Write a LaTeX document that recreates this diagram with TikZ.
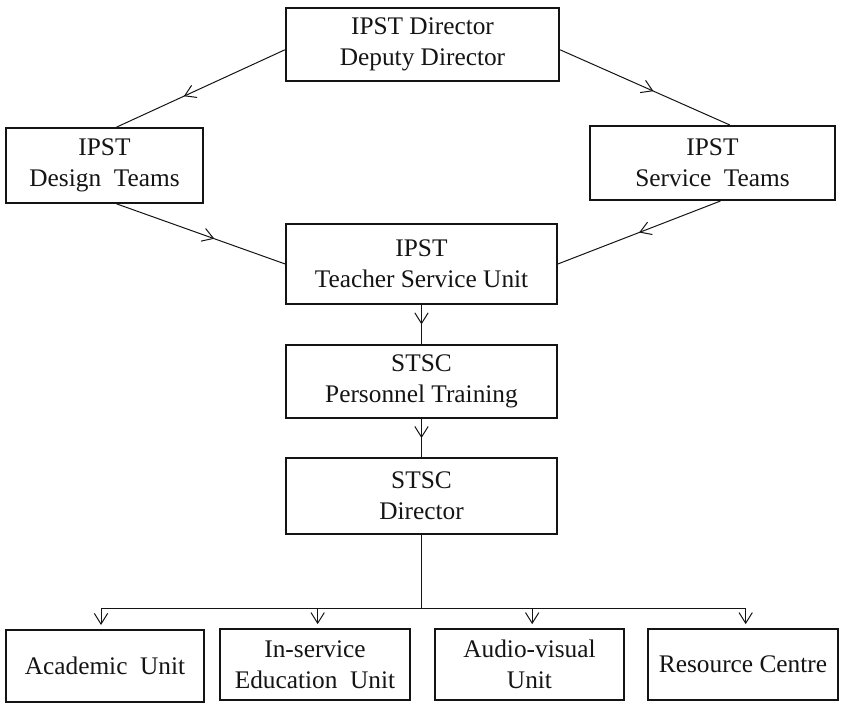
\documentclass[tikz,border=0pt]{standalone}
\usepackage{fontspec}
\setmainfont{Liberation Serif}
\usepackage{xcolor}
\definecolor{chart-ink}{HTML}{141414}
\usetikzlibrary{arrows.meta,decorations.markings}

\tikzset{
    unitbox/.style={draw=chart-ink, line width=1.5pt, inner sep=0pt, align=center,
        text=chart-ink, font=\fontsize{19}{23}\selectfont},
    link/.style={draw=chart-ink, line width=0.75pt},
    midarrow/.style={link, postaction={decorate}, decoration={markings,
        mark=at position #1 with {\arrow{Straight Barb[length=8pt,width=10pt]}}}},
    droparrow/.style={link, -{Straight Barb[length=8pt,width=10pt]}, shorten >=3pt}
}

\begin{document}
\begin{tikzpicture}[x=0.75pt, y=-0.75pt]

    % Frame
    \useasboundingbox (0, 0) rectangle (845, 705);

    % Top level
    \node[unitbox, minimum width=205pt, minimum height=55pt] (director) at (422.5, 44.5) {IPST Director\\Deputy Director};

    % Teams
    \node[unitbox, minimum width=148pt, minimum height=56pt] (design) at (104.5, 165.5) {IPST\\Design\ \ Teams};
    \node[unitbox, minimum width=184pt, minimum height=55.5pt] (service) at (712.5, 163) {IPST\\Service\ \ Teams};

    % Centre column
    \node[unitbox, minimum width=203pt, minimum height=60pt] (teacher) at (421.5, 264) {IPST\\Teacher Service Unit};
    \node[unitbox, minimum width=203pt, minimum height=55pt] (training) at (421.5, 381.5) {STSC\\Personnel Training};
    \node[unitbox, minimum width=203pt, minimum height=57pt] (stsc) at (421.5, 496) {STSC\\Director};

    % Units
    \node[unitbox, minimum width=148.5pt, minimum height=54pt] (academic) at (105, 666) {Academic\ \ Unit};
    \node[unitbox, minimum width=142.5pt, minimum height=53pt] (inservice) at (315, 664.5) {In-service\\Education\ \ Unit};
    \node[unitbox, minimum width=142pt, minimum height=53pt] (audio) at (529.5, 664.5) {Audio-visual\\Unit};
    \node[unitbox, minimum width=142.5pt, minimum height=53pt] (resource) at (743, 664.5) {Resource Centre};

    % Links
    \draw[midarrow=0.6] ([yshift=-4pt]director.west) -- ([xshift=9pt]design.north);
    \draw[midarrow=0.55] ([yshift=-4pt]director.east) -- ([xshift=13pt]service.north);
    \draw[midarrow=0.58] ([xshift=9pt]design.south) -- (teacher.west);
    \draw[midarrow=0.5] ([xshift=6pt]service.south) -- (teacher.east);
    \draw[midarrow=0.5] (teacher) -- (training);
    \draw[midarrow=0.5] (training) -- (stsc);

    % Distribution
    \coordinate (bus) at (421.5, 608);
    \draw[link] (stsc) -- (bus);
    \draw[droparrow] (bus) -| ([xshift=-3pt]academic.north);
    \draw[droparrow] (bus) -| ([xshift=2pt]inservice.north);
    \draw[droparrow] (bus) -| ([xshift=2pt]audio.north);
    \draw[droparrow] (bus) -| ([xshift=2pt]resource.north);

\end{tikzpicture}
\end{document}
